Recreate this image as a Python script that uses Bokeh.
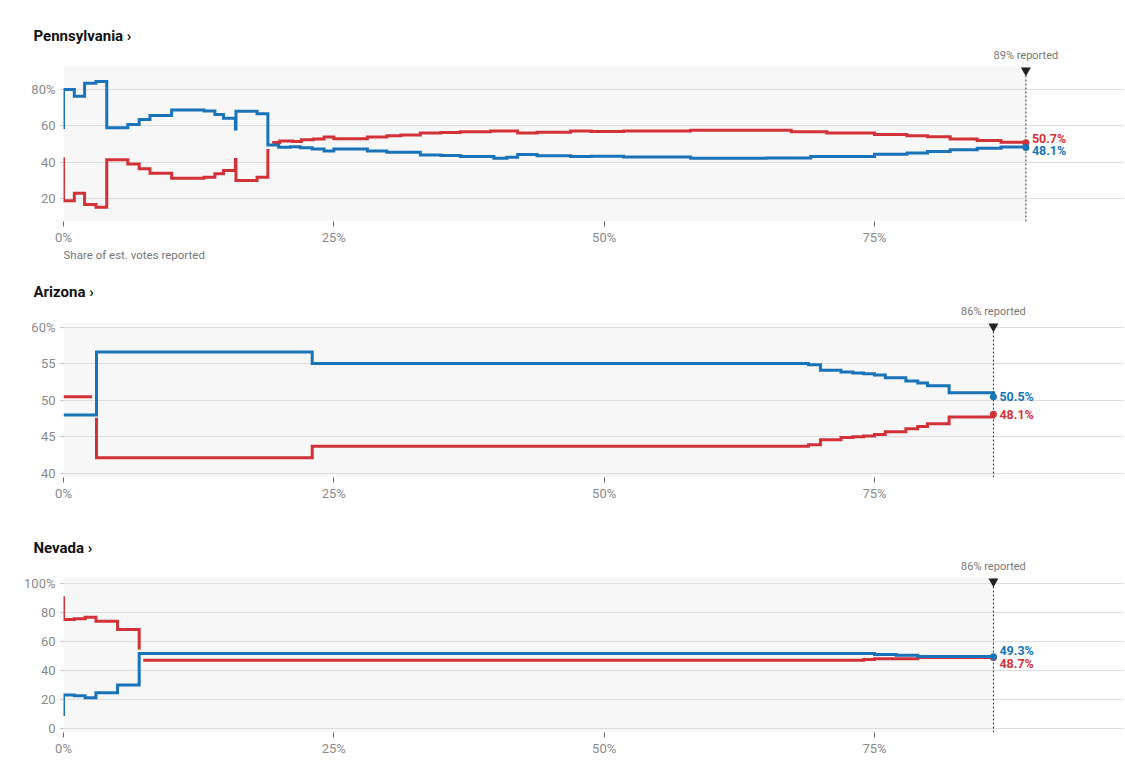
from bokeh.plotting import figure
from bokeh.layouts import column
from bokeh.models import Title, Label, BoxAnnotation, FixedTicker
from bokeh.embed import file_html
from bokeh.resources import INLINE

RED = "#d23237"
BLUE = "#1973b9"
FONT = "Roboto"

# ---------------- data ----------------
# step data: value ys[i] holds from xs[i] to xs[i+1]; last pair is the end point
pa_reported = 89
pa_blue_x = [0, 0, 1.0, 1.95, 3.0, 4.0, 5.95, 7.0, 8.0, 10.0, 13.0, 14.0, 14.8, 15.9, 15.95, 17.9, 18.9,
             19.9, 21.0, 21.9, 23.0, 24.1, 25.0, 28.1, 29.9, 33.0, 34.9, 36.7, 39.8, 41.0, 42.0, 43.8,
             46.9, 48.8, 51.8, 58.0, 65.0, 69.1, 75.0, 78.0, 79.9, 82.0, 84.5, 86.7, 89.0]
pa_blue_y = [58.3, 80.0, 76.3, 83.5, 84.4, 58.9, 60.7, 63.5, 65.7, 68.8, 68.2, 66.2, 64.2, 58.2, 68.0, 66.6, 49.5,
             48.2, 48.5, 47.9, 47.2, 46.2, 47.2, 46.2, 45.5, 44.0, 43.6, 43.1, 42.2, 42.7, 44.2, 43.5,
             43.1, 43.3, 42.9, 42.2, 42.3, 43.1, 44.4, 45.1, 45.8, 46.8, 47.6, 48.3, 48.1]
pa_red_x1 = [0, 0, 1.0, 1.95, 3.0, 4.0, 5.95, 7.0, 8.0, 10.0, 13.0, 14.0, 14.8, 15.9, 15.95, 17.9, 18.9]
pa_red_y1 = [42.7, 18.8, 22.9, 16.6, 15.2, 41.3, 39.0, 36.3, 33.9, 31.1, 31.7, 33.6, 35.4, 41.5, 29.9, 31.7, 47.2]
pa_red_x2 = [19.3, 20.0, 21.2, 22.0, 23.1, 24.1, 25.0, 28.1, 29.9, 31.2, 33.0, 34.9, 36.7, 39.5, 42.0,
             43.8, 46.9, 48.8, 51.8, 58.0, 67.3, 70.6, 75.0, 78.0, 79.9, 82.0, 84.5, 86.7, 89.0]
pa_red_y2 = [50.8, 51.7, 51.4, 52.3, 52.8, 53.8, 52.9, 53.8, 54.5, 55.0, 56.0, 56.3, 56.7, 57.2, 56.0,
             56.5, 57.2, 56.9, 57.2, 57.6, 56.8, 56.1, 55.2, 54.5, 54.0, 52.8, 51.9, 51.0, 50.7]
pa_final = {"red": 50.7, "blue": 48.1}

az_reported = 86
az_blue_x = [0, 3.05, 23.0, 68.9, 70.0, 71.9, 73.0, 74.0, 75.0, 76.0, 77.9, 79.0, 79.9, 81.9, 86.0]
az_blue_y = [48.0, 56.65, 55.05, 54.9, 54.15, 53.9, 53.75, 53.65, 53.5, 53.1, 52.65, 52.4, 52.0, 51.05, 50.5]
az_red_x1 = [0, 2.65]
az_red_y1 = [50.5, 50.5]
az_red_x2 = [3.05, 3.05, 23.0, 68.9, 70.0, 71.9, 73.0, 74.0, 75.0, 76.0, 77.9, 79.0, 79.9, 81.9, 86.0]
az_red_y2 = [47.6, 42.1, 43.7, 43.9, 44.6, 44.9, 45.0, 45.1, 45.3, 45.7, 46.1, 46.4, 46.8, 47.7, 48.1]
az_final = {"red": 48.1, "blue": 50.5}

nv_reported = 86
nv_blue_x = [0, 0, 1.0, 2.0, 3.0, 5.0, 7.0, 75.0, 77.0, 79.0, 86.0]
nv_blue_y = [8.3, 22.8, 22.3, 20.9, 24.4, 29.7, 51.5, 50.8, 50.3, 49.4, 49.3]
nv_red_x1 = [0, 0, 1.0, 2.0, 3.0, 5.0, 7.0]
nv_red_y1 = [91.0, 75.0, 75.5, 76.5, 73.8, 68.0, 54.3]
nv_red_x2 = [7.37, 74.0, 75.0, 79.0, 86.0]
nv_red_y2 = [46.9, 47.4, 47.8, 48.7, 48.7]
nv_final = {"red": 48.7, "blue": 49.3}

x_ticks = [0, 25, 50, 75]
pa_y_ticks = [20, 40, 60, 80]
az_y_ticks = [40, 45, 50, 55, 60]
nv_y_ticks = [0, 20, 40, 60, 80, 100]


def step_path(xs, ys):
    px, py = [], []
    for i in range(len(xs) - 1):
        px += [xs[i], xs[i + 1]]
        py += [ys[i], ys[i]]
    px.append(xs[-1])
    py.append(ys[-1])
    return px, py


FRAME_W, PLOT_H, EXT = 1061, 155, 20
X_END = 98.12


def make_fig(name, yr, yticks, reported, red_segs, blue_segs, final, offs,
             top_border, title_standoff, xlabel=False):
    y0, y1 = yr
    ypx = (y1 - y0) / PLOT_H
    y_top = y1 + EXT * ypx
    p = figure(frame_width=FRAME_W, frame_height=PLOT_H + EXT, x_range=(0, X_END),
               y_range=(y0, y_top),
               output_backend="svg", toolbar_location=None,
               min_border_left=63, min_border_right=0, min_border_top=top_border,
               min_border_bottom=43, title=name)
    p.outline_line_color = None
    p.background_fill_color = "white"
    p.border_fill_color = "white"

    p.title.align = "left"
    p.title.offset = -30
    p.title.standoff = title_standoff
    p.title.text_font = FONT
    p.title.text_font_size = "15px"
    p.title.text_font_style = "bold"
    p.title.text_color = "#121212"

    p.add_layout(BoxAnnotation(left=0, right=reported, top=y1, fill_color="#f7f7f7",
                               fill_alpha=1.0, line_color=None, level="image"))

    p.xgrid.visible = False
    p.ygrid.ticker = FixedTicker(ticks=yticks)
    p.ygrid.grid_line_color = "#dddddd"
    p.ygrid.grid_line_width = 1

    p.yaxis.ticker = FixedTicker(ticks=yticks)
    p.yaxis.major_label_overrides = {yticks[-1]: f"{yticks[-1]}%"}
    p.yaxis.axis_line_color = None
    p.yaxis.major_tick_in = 0
    p.yaxis.major_tick_out = 3
    p.yaxis.major_tick_line_color = "#bbbbbb"
    p.yaxis.minor_tick_line_color = None
    p.yaxis.major_label_standoff = 5
    p.yaxis.major_label_text_font = FONT
    p.yaxis.major_label_text_font_size = "13px"
    p.yaxis.major_label_text_color = "#8a8a8a"

    p.xaxis.ticker = FixedTicker(ticks=x_ticks)
    p.xaxis.major_label_overrides = {t: f"{t}%" for t in x_ticks}
    p.xaxis.axis_line_color = None
    p.xaxis.major_tick_in = 0
    p.xaxis.major_tick_out = 5
    p.xaxis.major_tick_line_color = "#666666"
    p.xaxis.minor_tick_line_color = None
    p.xaxis.major_label_standoff = 3
    p.xaxis.major_label_text_font = FONT
    p.xaxis.major_label_text_font_size = "13px"
    p.xaxis.major_label_text_color = "#8a8a8a"

    if xlabel:
        t = Title(text="Share of est. votes reported", align="left", text_font=FONT,
                  text_font_size="11.5px", text_font_style="normal", text_color="#777777",
                  standoff=-4)
        p.add_layout(t, "below")

    for xs, ys in red_segs:
        lx, ly = step_path(xs, ys)
        p.line(lx, ly, line_color=RED, line_width=3, line_join="miter")
    for xs, ys in blue_segs:
        lx, ly = step_path(xs, ys)
        p.line(lx, ly, line_color=BLUE, line_width=3, line_join="miter")

    p.segment(x0=[reported], y0=[y0], x1=[reported], y1=[y1], line_color="#333333",
              line_dash="2 2", line_width=1)
    p.scatter([reported], [y1 - 4 * ypx], marker="inverted_triangle", size=10,
              color="#222222", line_color=None)
    p.add_layout(Label(x=reported, y=y1, y_offset=11, text=f"{reported}% reported",
                       text_align="center", text_baseline="middle", text_font=FONT,
                       text_font_size="11px", text_color="#777777"))

    for party, col in (("red", RED), ("blue", BLUE)):
        v = final[party]
        p.scatter([reported], [v], marker="circle", size=7, color=col, line_color=None)
        p.add_layout(Label(x=reported, y=v, x_offset=6, y_offset=offs[party], text=f"{v}%",
                           text_align="left", text_baseline="middle", text_font=FONT,
                           text_font_size="12.5px", text_font_style="bold", text_color=col))
    return p


p1 = make_fig("Pennsylvania ›", (7.3, 92.7), pa_y_ticks, pa_reported,
              [(pa_red_x1, pa_red_y1), (pa_red_x2, pa_red_y2)], [(pa_blue_x, pa_blue_y)],
              pa_final, {"red": 4, "blue": -3}, 46, 4, xlabel=True)
p2 = make_fig("Arizona ›", (39.4, 60.7), az_y_ticks, az_reported,
              [(az_red_x1, az_red_y1), (az_red_x2, az_red_y2)], [(az_blue_x, az_blue_y)],
              az_final, {"red": 0, "blue": 0}, 38, 3)
p3 = make_fig("Nevada ›", (-3.0, 103.9), nv_y_ticks, nv_reported,
              [(nv_red_x1, nv_red_y1), (nv_red_x2, nv_red_y2)], [(nv_blue_x, nv_blue_y)],
              nv_final, {"red": -6, "blue": 6}, 37, 2)

layout = column(p1, p2, p3)
open("out.html", "w").write(file_html(layout, INLINE))
